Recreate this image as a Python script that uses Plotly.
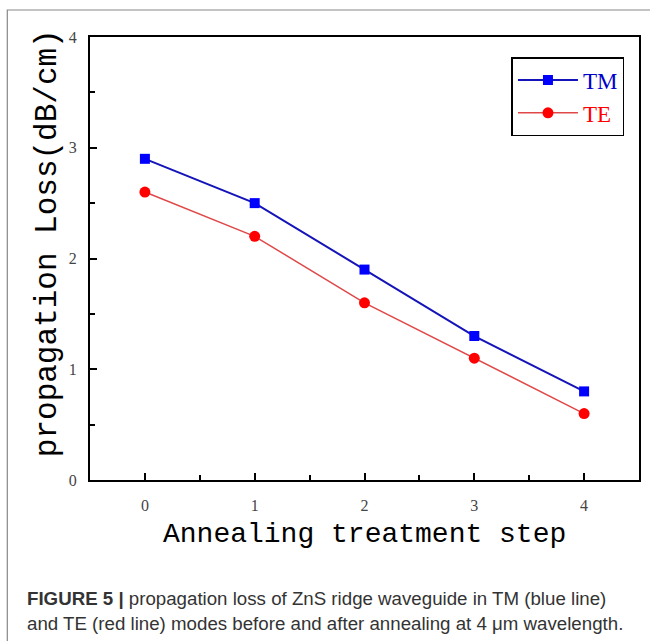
import plotly.graph_objects as go

steps = [0, 1, 2, 3, 4]
tm_loss = [2.9, 2.5, 1.9, 1.3, 0.8]
te_loss = [2.6, 2.2, 1.6, 1.1, 0.6]
tick_vals_y = [0, 1, 2, 3, 4]
tick_vals_x = [0, 1, 2, 3, 4]

W, H = 650, 641
L, R, T, B = 90, 9, 37, 161
pw, ph = W - L - R, H - T - B

def px(x):
    return (x - L) / pw

def py(y):
    return (H - B - y) / ph

fig = go.Figure()
fig.add_trace(go.Scatter(
    x=steps, y=tm_loss, mode="lines+markers",
    name='<span style="color:#0000cc">TM</span>',
    line=dict(color="#1414b8", width=2),
    marker=dict(symbol="square", size=10, color="#0000ff"),
))
fig.add_trace(go.Scatter(
    x=steps, y=te_loss, mode="lines+markers",
    name='<span style="color:#ff0000">TE</span>',
    line=dict(color="#e04848", width=1.5),
    marker=dict(symbol="circle", size=11, color="#ff0000"),
))

axis_common = dict(
    showline=True, linecolor="black", linewidth=2, mirror=True,
    ticks="inside", ticklen=7, tickwidth=2, tickcolor="black",
    showgrid=False, zeroline=False,
    tickfont=dict(family="Liberation Serif", size=16, color="#444"),
    minor=dict(ticks="inside", ticklen=5, tickwidth=1.5, tickcolor="black", dtick=0.5),
)

fig.update_xaxes(range=[-0.5, 4.5], tickvals=tick_vals_x, ticklabelstandoff=10, **axis_common)
fig.update_yaxes(range=[0, 4], tickvals=tick_vals_y, ticklabelstandoff=8, **axis_common)

fig.update_layout(
    width=W, height=H,
    margin=dict(l=L, r=R, t=T, b=B),
    plot_bgcolor="white", paper_bgcolor="white",
    showlegend=True,
    legend=dict(
        x=px(513), y=py(57), xanchor="left", yanchor="top",
        bordercolor="black", borderwidth=1.5, bgcolor="white",
        font=dict(family="Liberation Serif", size=23),
        itemwidth=60, tracegroupgap=0,
    ),
    shapes=[
        dict(type="rect", xref="paper", yref="paper",
             x0=px(7), x1=px(660), y0=py(660), y1=py(10),
             line=dict(color="#888", width=1.2), layer="below"),
    ],
    annotations=[
        dict(text="Annealing treatment step", xref="paper", yref="paper",
             x=px(366), y=py(534), xanchor="center", yanchor="middle",
             showarrow=False, font=dict(family="Liberation Mono", size=28, color="black")),
        dict(text="propagation Loss(dB/cm)", xref="paper", yref="paper",
             x=px(48), y=py(243), xanchor="center", yanchor="middle", textangle=-90,
             showarrow=False, font=dict(family="Liberation Mono", size=31, color="black")),
        dict(text="<b>FIGURE 5 |</b> propagation loss of ZnS ridge waveguide in TM (blue line)",
             xref="paper", yref="paper", x=px(25), y=py(598), xanchor="left", yanchor="middle",
             showarrow=False, font=dict(family="Liberation Sans", size=18.7, color="#333")),
        dict(text="and TE (red line) modes before and after annealing at 4 μm wavelength.",
             xref="paper", yref="paper", x=px(25), y=py(623), xanchor="left", yanchor="middle",
             showarrow=False, font=dict(family="Liberation Sans", size=18.7, color="#333")),
    ],
)

fig.write_html("out.html")
